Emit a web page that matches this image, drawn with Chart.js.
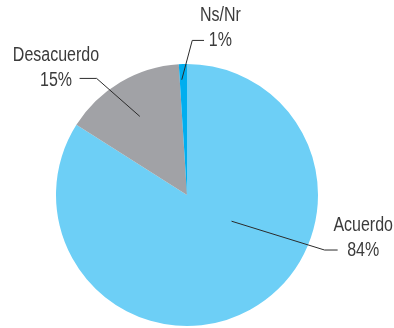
<!DOCTYPE html>
<html>
<head>
<meta charset="utf-8">
<script src="https://cdn.jsdelivr.net/npm/chart.js@4.4.1/dist/chart.umd.min.js"></script>
<style>
	html, body { margin: 0; padding: 0; background: #fff; }
	#wrap { position: relative; width: 394px; height: 328px; }
</style>
</head>
<body>
<div id="wrap"><canvas id="pieChart" width="394" height="328"></canvas></div>
<script>
'use strict';

const categories = ['Acuerdo', 'Desacuerdo', 'Ns/Nr'];
const shares = [84, 15, 1];
const sliceColors = ['#6dcff6', '#a1a2a6', '#00aeef'];

// Callout layout per slice, in units of the pie radius from its centre:
// start of the leader, its elbow, its end, and the centre of the two text lines
const callouts = [
	{ start: [0.34, 0.20], elbow: [1.05, 0.42], end: [1.15, 0.42], text: [1.345, 0.235] },
	{ start: [-0.36, -0.60], elbow: [-0.69, -0.89], end: [-0.82, -0.89], text: [-1.00, -1.065] },
	{ start: [-0.04, -0.88], elbow: [0.04, -1.18], end: [0.13, -1.18], text: [0.255, -1.37] }
];

// Condensed look: regular sans squeezed horizontally
const labelFont = '20px "Liberation Sans", Arial, sans-serif';
const squeeze = 0.8;

const calloutPlugin = {
	id: 'callouts',
	afterDatasetsDraw(chart) {
		const ctx = chart.ctx;
		const arcs = chart.getDatasetMeta(0).data;
		ctx.save();
		ctx.font = labelFont;
		ctx.fillStyle = '#3b3b3b';
		ctx.strokeStyle = '#2b2b2b';
		ctx.lineWidth = 1;
		ctx.textAlign = 'center';
		ctx.textBaseline = 'middle';
		for (let i = 0; i < arcs.length; ++i) {
			const arc = arcs[i];
			const r = arc.outerRadius;
			const c = callouts[i];
			const px = (p) => arc.x + p[0] * r;
			const py = (p) => arc.y + p[1] * r;

			ctx.beginPath();
			ctx.moveTo(px(c.start), py(c.start));
			ctx.lineTo(px(c.elbow), py(c.elbow));
			ctx.lineTo(px(c.end), py(c.end));
			ctx.stroke();

			const tx = px(c.text);
			const ty = py(c.text);
			ctx.save();
			ctx.translate(tx, ty);
			ctx.scale(squeeze, 1);
			ctx.fillText(categories[i], 0, 0);
			ctx.fillText(shares[i] + '%', 0, 25);
			ctx.restore();
		}
		ctx.restore();
	}
};

const pieChart = new Chart(document.getElementById('pieChart'), {
	type: 'pie',
	data: {
		labels: categories,
		datasets: [
			{
				data: shares,
				backgroundColor: sliceColors,
				borderWidth: 0
			}
		]
	},
	options: {
		responsive: false,
		animation: false,
		layout: { padding: { top: 64, bottom: 2, left: 56, right: 76 } },
		plugins: {
			legend: { display: false },
			tooltip: { enabled: false }
		}
	},
	plugins: [calloutPlugin]
});
</script>
</body>
</html>
